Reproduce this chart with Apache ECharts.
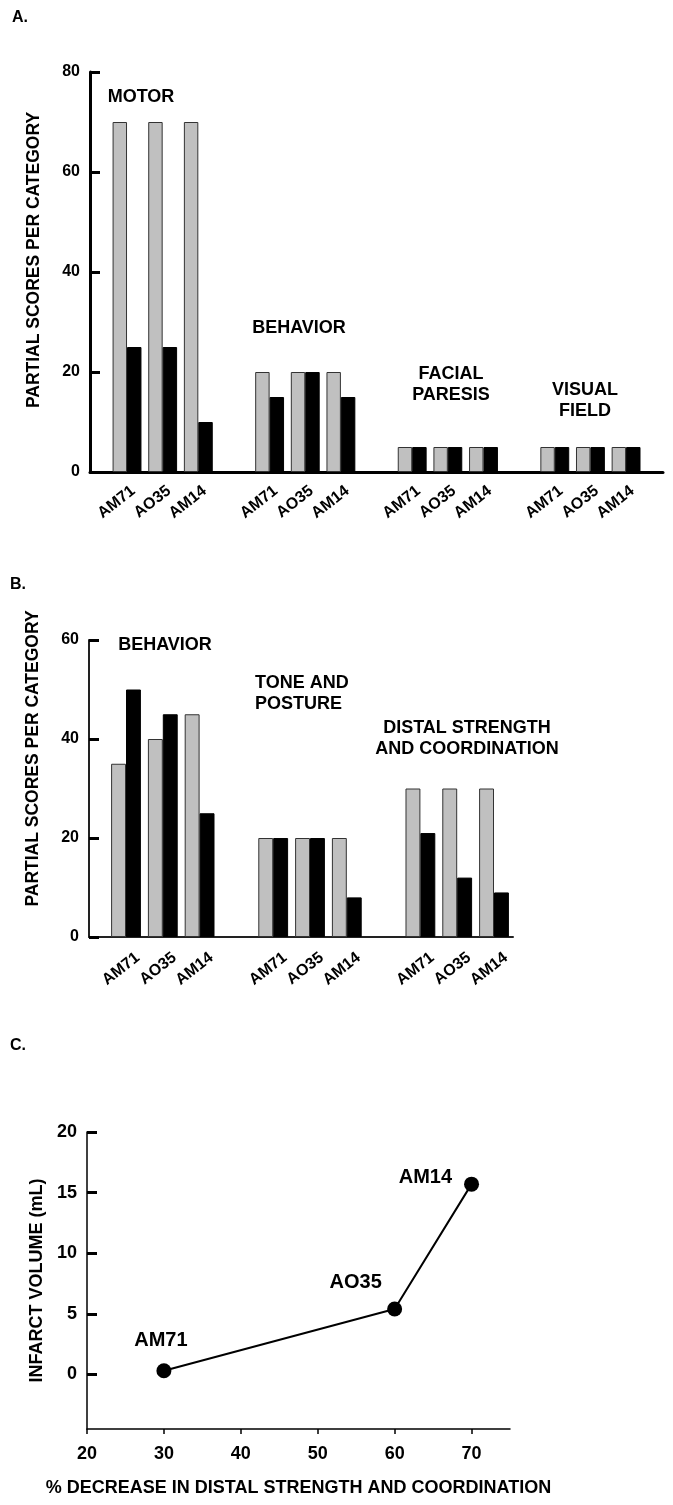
<!DOCTYPE html>
<html><head><meta charset="utf-8">
<script src="https://cdn.jsdelivr.net/npm/echarts@6/dist/echarts.min.js"></script>
<style>html,body{margin:0;padding:0;background:#fff}#c{width:673px;height:1505px}</style>
</head><body><div id="c"></div>
<script>
// ---- data ----
const subjects = ['AM71', 'AO35', 'AM14'];
const groupsA = ['MOTOR', 'BEHAVIOR', 'FACIAL\nPARESIS', 'VISUAL\nFIELD'];
const grayA = [[70, 70, 70], [20, 20, 20], [5, 5, 5], [5, 5, 5]];
const blackA = [[25, 25, 10], [15, 20, 15], [5, 5, 5], [5, 5, 5]];
const groupsB = ['BEHAVIOR', 'TONE AND\nPOSTURE', 'DISTAL STRENGTH\nAND COORDINATION'];
const grayB = [[35, 40, 45], [20, 20, 20], [30, 30, 30]];
const blackB = [[50, 45, 25], [20, 20, 8], [21, 12, 9]];
const yTicksA = [0, 20, 40, 60, 80];
const yTicksB = [0, 20, 40, 60];
const pointNamesC = ['AM71', 'AO35', 'AM14'];
const xC = [30, 60, 70];
const yC = [0.3, 5.4, 15.7];
const xTicksC = [20, 30, 40, 50, 60, 70];
const yTicksC = [0, 5, 10, 15, 20];
const titleY = 'PARTIAL SCORES PER CATEGORY';
const titleYC = 'INFARCT VOLUME (mL)';
const titleXC = '% DECREASE IN DISTAL STRENGTH AND COORDINATION';

// ---- build ----
function build(gray, black) {
  const cats = [], g = [], b = [];
  gray.forEach((grp, gi) => {
    if (gi > 0) { cats.push('gap' + gi); g.push('-'); b.push('-'); }
    grp.forEach((v, si) => { cats.push(gi + '|' + subjects[si]); g.push(v); b.push(black[gi][si]); });
  });
  return { cats, g, b };
}
const A = build(grayA, blackA);
const B = build(grayB, blackB);

const FF = '"Liberation Sans", Arial, Helvetica, sans-serif';
function catLabel(margin, shift) {
  return {
    rotate: 38, interval: 0, margin: margin, color: '#000', fontWeight: 'bold', fontSize: 16, fontFamily: FF,
    padding: [0, -shift, 0, 0],
    formatter: v => v.indexOf('gap') === 0 ? '' : v.split('|')[1]
  };
}
function catAxis(grid, cats, margin, shift) {
  return { type: 'category', gridIndex: grid, data: cats, axisLine: { show: false }, axisTick: { show: false }, axisLabel: catLabel(margin, shift), splitLine: { show: false } };
}
function frameX(grid, w, col) {
  return { type: 'value', gridIndex: grid, min: 0, max: 1, axisLine: { show: true, onZero: false, lineStyle: { color: col, width: w } }, axisTick: { show: false }, axisLabel: { show: false }, splitLine: { show: false } };
}
function hiddenY(grid, max) {
  return { type: 'value', gridIndex: grid, min: 0, max: max, show: false, splitLine: { show: false } };
}
function frameY(grid, max, ticks, w, col, shift) {
  return {
    type: 'value', gridIndex: grid, min: 0, max: max, interval: 20,
    axisLine: { show: true, onZero: false, lineStyle: { color: col, width: w } },
    axisTick: { show: true, inside: true, length: 10, lineStyle: { color: '#000', width: 3 } },
    axisLabel: { margin: 10, color: '#000', fontWeight: 'bold', fontSize: 16, fontFamily: FF, customValues: ticks },
    splitLine: { show: false },
    name: titleY, nameLocation: 'middle', nameGap: 47,
    nameTextStyle: { color: '#000', fontWeight: 'bold', fontSize: 17.5, fontFamily: FF, padding: [0, 0, 0, shift] }
  };
}
const grayStyle = { color: '#c0c0c0', borderColor: '#333', borderWidth: 1 };
const blackStyle = { color: '#000', borderColor: '#000', borderWidth: 1 };
function bars(xi, yi, d, style) {
  return { type: 'bar', xAxisIndex: xi, yAxisIndex: yi, data: d, itemStyle: style, barGap: '0%', barCategoryGap: '19%', silent: true, animation: false };
}

const labelPos = [
  { position: 'top', distance: 13, offset: [-3, 0] },
  { position: 'top', distance: 9, offset: [-39, 0] },
  { position: 'left', distance: 12, offset: [0, -7] }
];
const lineData = xC.map((x, i) => ({ value: [x, yC[i]], label: labelPos[i] }));

function txt(text, x, y, size, align) {
  return {
    type: 'text', x: x, y: y, silent: true,
    style: { text: text, fill: '#000', fontSize: size, fontWeight: 'bold', fontFamily: FF, lineHeight: 21,
      align: align || 'center', verticalAlign: 'middle', textAlign: align || 'center', textVerticalAlign: 'middle' }
  };
}

const option = {
  backgroundColor: '#fff',
  animation: false,
  grid: [
    { left: 109.2, top: 72, width: 534.7, height: 400, containLabel: false, outerBoundsMode: 'none' },
    { left: 90, top: 72, width: 573, height: 400, containLabel: false, outerBoundsMode: 'none' },
    { left: 107.6, top: 640, width: 404.8, height: 297, containLabel: false, outerBoundsMode: 'none' },
    { left: 89, top: 640, width: 424, height: 297, containLabel: false, outerBoundsMode: 'none' },
    { left: 87, top: 1132, width: 423, height: 297, containLabel: false, outerBoundsMode: 'none' }
  ],
  xAxis: [
    catAxis(0, A.cats, 22, 8),
    frameX(1, 3, '#000'),
    catAxis(2, B.cats, 28, 15),
    frameX(3, 2, '#222'),
    {
      type: 'value', gridIndex: 4, min: 20, max: 75,
      axisLine: { show: true, onZero: false, lineStyle: { color: '#000', width: 1.5 } },
      axisTick: { show: true, length: 5, lineStyle: { color: '#000', width: 1.5 }, customValues: xTicksC },
      axisLabel: { margin: 16, color: '#000', fontWeight: 'bold', fontSize: 18, fontFamily: FF, customValues: xTicksC },
      splitLine: { show: false },
      name: titleXC, nameLocation: 'middle', nameGap: 50,
      nameTextStyle: { color: '#000', fontWeight: 'bold', fontSize: 18, fontFamily: FF }
    }
  ],
  yAxis: [
    hiddenY(0, 80),
    frameY(1, 80, yTicksA, 3, '#000', 24),
    hiddenY(2, 60),
    frameY(3, 60, yTicksB, 2, '#222', 60),
    {
      type: 'value', gridIndex: 4, min: -4.5, max: 20,
      axisLine: { show: true, onZero: false, lineStyle: { color: '#000', width: 1.5 } },
      axisTick: { show: true, inside: true, length: 10, lineStyle: { color: '#000', width: 3 }, customValues: yTicksC },
      axisLabel: { margin: 10, color: '#000', fontWeight: 'bold', fontSize: 18, fontFamily: FF, customValues: yTicksC },
      splitLine: { show: false },
      name: titleYC, nameLocation: 'middle', nameGap: 40,
      nameTextStyle: { color: '#000', fontWeight: 'bold', fontSize: 18, fontFamily: FF }
    }
  ],
  series: [
    bars(0, 0, A.g, grayStyle),
    bars(0, 0, A.b, blackStyle),
    bars(2, 2, B.g, grayStyle),
    bars(2, 2, B.b, blackStyle),
    {
      type: 'line', xAxisIndex: 4, yAxisIndex: 4, data: lineData,
      symbol: 'circle', symbolSize: 15, showAllSymbol: true, silent: true, animation: false,
      itemStyle: { color: '#000' }, lineStyle: { color: '#000', width: 2 },
      label: { show: true, color: '#000', fontWeight: 'bold', fontSize: 20, fontFamily: FF,
        formatter: p => pointNamesC[p.dataIndex] }
    }
  ],
  graphic: [
    txt('A.', 12, 18, 16, 'left'),
    txt('B.', 10, 585, 16, 'left'),
    txt('C.', 10, 1046, 16, 'left'),
    txt(groupsA[0], 141, 97, 18),
    txt(groupsA[1], 299, 328, 18),
    txt(groupsA[2], 451, 385, 18),
    txt(groupsA[3], 585, 401, 18),
    txt(groupsB[0], 165, 645, 18),
    txt(groupsB[1], 255, 693.5, 18, 'left'),
    txt(groupsB[2], 467, 738.5, 18)
  ]
};
const chart = echarts.init(document.getElementById('c'), null, { renderer: 'canvas' });
chart.setOption(option);
</script></body></html>
